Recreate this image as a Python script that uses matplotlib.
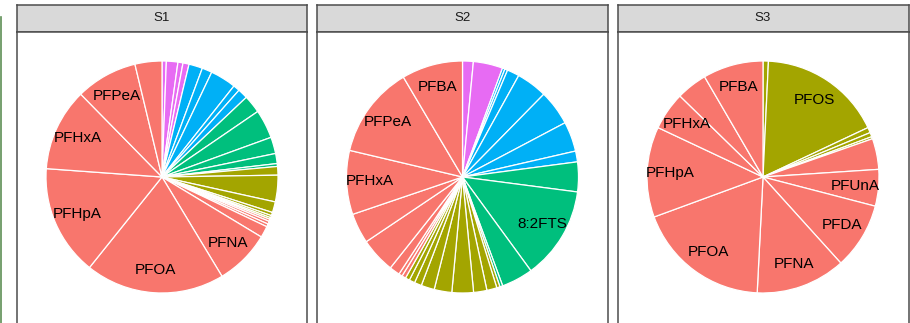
import numpy as np
import matplotlib.pyplot as plt
from matplotlib.lines import Line2D

plt.rcParams['font.family'] = ['Liberation Sans', 'DejaVu Sans']

samples = ['S1', 'S2', 'S3']

# compound classes -> ggplot hue colours
class_colors = {
    'PFCA': '#F8766D',
    'PFSA': '#A3A500',
    'FTS': '#00BF7D',
    'precursor': '#00B0F6',
    'other': '#E76BF3',
}

# slices run clockwise from 12 o'clock, shares in percent
s1_class = ['other'] * 4 + ['precursor'] * 5 + ['FTS'] * 5 + ['PFSA'] * 6 + ['PFCA'] * 10
s1_share = [0.6, 1.6, 0.7, 0.85,
            1.9, 1.4, 3.6, 0.9, 1.4,
            2.5, 4.0, 2.3, 1.4, 0.4,
            1.2, 3.7, 1.5, 0.45, 0.3, 0.25,
            0.3, 0.4, 0.4, 1.6, 7.7, 19.4, 15.4, 11.5, 8.6, 3.75]
s1_label = [''] * 24 + ['PFNA', 'PFOA', 'PFHpA', 'PFHxA', 'PFPeA', '']

s2_class = ['other'] * 2 + ['precursor'] * 7 + ['FTS'] * 4 + ['PFSA'] * 9 + ['PFCA'] * 8
s2_share = [1.5, 4.1,
            0.35, 0.4, 1.7, 4.3, 4.9, 4.15, 1.5,
            4.15, 12.9, 4.4, 0.4,
            0.45, 1.4, 1.85, 3.0, 2.45, 1.85, 1.0, 0.8, 0.6,
            0.55, 0.5, 1.45, 4.9, 4.2, 8.9, 12.8, 8.5]
s2_label = [''] * 10 + ['8:2FTS'] + [''] * 16 + ['PFHxA', 'PFPeA', 'PFBA']

s3_class = ['PFSA'] * 5 + ['PFCA'] * 9
s3_share = [0.75, 17.25, 0.75, 0.6, 0.3,
            4.3, 5.1, 9.25, 12.5, 18.6, 12.6, 5.3, 4.3, 8.4]
s3_label = ['', 'PFOS', '', '', '',
            '', 'PFUnA', 'PFDA', 'PFNA', 'PFOA', 'PFHpA', 'PFHxA', '', 'PFBA']

panels = [(s1_class, s1_share, s1_label),
          (s2_class, s2_share, s2_label),
          (s3_class, s3_share, s3_label)]

W, H = 910, 323
fig = plt.figure(figsize=(W / 100, H / 100), dpi=100)


def box(x0, y0, x1, y1):
    # pixel box (top-left origin) -> figure fraction rect
    return [x0 / W, 1 - y1 / H, (x1 - x0) / W, (y1 - y0) / H]


panel_left = [16.5, 317, 617.5]
panel_w = 291
strip_top, strip_bot = 4.5, 31.5
center_y = 177
radius = 116
border = '#4D4D4D'

for name, left, (cls, share, lab) in zip(samples, panel_left, panels):
    # facet strip
    sx = fig.add_axes(box(left, strip_top, left + panel_w, strip_bot))
    sx.set_facecolor('#D9D9D9')
    sx.set_xticks([])
    sx.set_yticks([])
    for sp in sx.spines.values():
        sp.set_color(border)
        sp.set_linewidth(1.1)
    sx.text(0.5, 0.5, name, ha='center', va='center', fontsize=9.5,
            color='#1A1A1A', transform=sx.transAxes)

    # panel body, data units = pixels, pie centred at (0, 0)
    ax = fig.add_axes(box(left, strip_bot, left + panel_w, 332))
    wedges, _ = ax.pie(share, colors=[class_colors[c] for c in cls],
                       startangle=90, counterclock=False, radius=radius,
                       wedgeprops=dict(edgecolor='white', linewidth=0.9))
    ax.set_aspect('auto')
    ax.set_xlim(-panel_w / 2, panel_w / 2)
    ax.set_ylim(center_y - 332, center_y - strip_bot)
    ax.set_frame_on(True)
    ax.set_xticks([])
    ax.set_yticks([])
    for sp in ax.spines.values():
        sp.set_visible(True)
        sp.set_color(border)
        sp.set_linewidth(1.1)

    for w, txt in zip(wedges, lab):
        if not txt:
            continue
        mid = np.deg2rad((w.theta1 + w.theta2) / 2)
        ax.text(0.8 * radius * np.cos(mid), 0.8 * radius * np.sin(mid), txt,
                ha='center', va='center', fontsize=11, color='black')

fig.add_artist(Line2D([0.7 / W, 0.7 / W], [0, 1 - 17 / H], color='#5E8F55', lw=1.2))

fig.savefig('out.png', dpi=100)
